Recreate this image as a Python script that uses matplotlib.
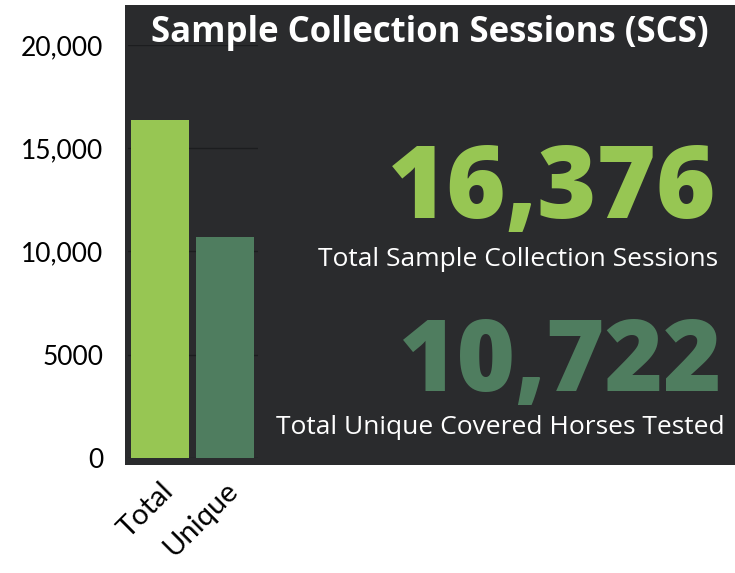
import matplotlib.pyplot as plt
from matplotlib.patches import Rectangle

# data
categories = ["Total", "Unique"]
values = [16376, 10722]
colors = ["#97c653", "#4f7d5f"]
yticks = [0, 5000, 10000, 15000, 20000]
ytick_labels = ["0", "5000", "10,000", "15,000", "20,000"]
title = "Sample Collection Sessions (SCS)"
captions = ["Total Sample Collection Sessions", "Total Unique Covered Horses Tested"]

W, H = 735, 573
bg = "#2a2b2d"
FONT = "Open Sans"

fig = plt.figure(figsize=(W / 100, H / 100), dpi=100)
fig.patch.set_facecolor("white")


def fx(px):
    return px / W


def fy(py):
    return 1 - py / H


# dark panel behind the chart and the key figures
fig.patches.append(Rectangle((fx(125), fy(465)), fx(735) - fx(125), fy(5) - fy(465),
                             transform=fig.transFigure, facecolor=bg, edgecolor="none",
                             zorder=-5))

ax = fig.add_axes([fx(127.5), fy(458), fx(257.5) - fx(127.5), fy(45) - fy(458)])
ax.set_zorder(2)
ax.set_facecolor(bg)
ax.bar(range(len(values)), values, width=0.89, color=colors, zorder=3)
ax.set_xlim(-0.5, 1.5)
ax.set_ylim(0, 20000)
ax.set_yticks(yticks)
ax.set_yticklabels(ytick_labels, family="Lato", fontsize=19, color="black")
ax.set_xticks(range(len(categories)))
ax.set_xticklabels(categories, family="Lato", fontsize=21, rotation=45,
                   ha="right", rotation_mode="anchor")
ax.tick_params(axis="y", length=0, pad=17.5)
ax.tick_params(axis="x", length=0, pad=14)
ax.grid(axis="y", color="#1c1d1f", lw=1, zorder=1)
for s in ax.spines.values():
    s.set_visible(False)

fig.text(fx(430), fy(33), title, family=FONT, fontweight="bold", fontsize=25,
         color="white", ha="center", va="center")

fig.text(fx(716), fy(192), f"{values[0]:,}", family=FONT, fontweight="heavy", fontsize=73,
         color=colors[0], ha="right", va="center")
fig.text(fx(718), fy(259), captions[0], family=FONT, fontsize=19, color="white",
         ha="right", va="center")
fig.text(fx(722), fy(365), f"{values[1]:,}", family=FONT, fontweight="heavy", fontsize=72,
         color=colors[1], ha="right", va="center")
fig.text(fx(725), fy(427), captions[1], family=FONT, fontsize=19, color="white",
         ha="right", va="center")

fig.savefig("out.png", dpi=100)
